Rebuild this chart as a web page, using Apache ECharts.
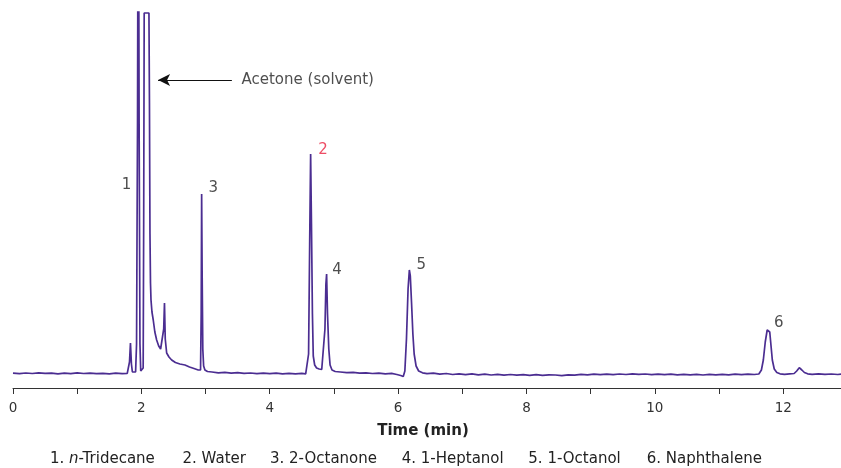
<!DOCTYPE html>
<html>
<head>
<meta charset="utf-8">
<script src="https://cdn.jsdelivr.net/npm/echarts@6/dist/echarts.min.js"></script>
<style>html,body{margin:0;padding:0;background:#fff}#c{width:841px;height:468px}</style>
</head>
<body>
<div id="c"></div>
<script>
// Retention time (min)
var times = [0.00,0.10,0.20,0.30,0.40,0.50,0.60,0.70,0.80,0.90,1.00,1.10,1.20,1.30,1.40,1.50,1.60,1.70,1.78,
1.80,1.815,1.83,1.845,1.86,1.88,1.91,1.925,1.94,1.952,1.965,1.978,1.99,2.01,2.028,2.036,2.044,2.118,2.126,2.134,2.142,2.150,2.165,2.185,2.21,2.238,2.27,2.30,2.33,2.348,2.360,2.372,2.394,2.43,2.472,2.53,2.60,2.679,2.75,2.82,2.886,2.922,2.932,2.939,2.947,2.957,2.97,2.99,3.03,3.10,3.20,3.30,3.40,3.50,3.60,3.70,3.80,3.90,4.00,4.10,4.20,4.30,4.40,4.50,4.56,
4.590,4.605,4.622,4.637,4.650,4.665,4.678,4.70,4.73,4.77,4.81,4.835,4.86,4.875,4.886,4.900,4.92,4.94,4.97,5.02,5.10,5.20,5.30,5.40,5.50,5.60,5.70,5.80,5.90,5.98,6.04,6.08,6.105,6.13,6.155,6.175,6.19,6.21,6.23,6.25,6.28,6.32,6.38,6.45,6.55,6.65,6.75,6.85,6.95,7.05,7.15,7.25,7.35,7.45,7.55,7.65,7.75,7.85,7.95,8.05,8.15,8.25,8.35,8.45,8.55,8.65,8.75,8.85,8.95,9.05,9.15,9.25,9.35,9.45,9.55,9.65,9.75,9.85,9.95,10.05,10.15,10.25,10.35,10.45,10.55,10.65,10.75,10.85,10.95,11.05,11.15,11.25,11.35,11.45,11.55,11.62,11.66,11.69,11.72,11.75,11.77,11.79,11.81,11.83,11.86,11.90,11.95,12.02,12.10,12.17,12.21,12.25,12.29,12.33,12.38,12.45,12.55,12.65,12.75,12.85,12.90];
// Detector signal (arbitrary units, baseline ~0)
var signal = [0.8,0.3,1.0,0.5,1.2,0.6,0.9,0.2,0.8,0.4,1.1,0.5,0.9,0.3,0.7,0.2,0.8,0.4,0.6,
1,12,31,10,2,1.2,2,30,250,600,250,30,3,2.5,6,150,361,361,270,140,91,74,62,54,42,34,28,25,24,45,71,35,21,17,14,11.5,10,9,7,5.5,4,4,60,180,100,25,8,4,2.5,2,1.2,1.6,0.8,1.3,0.6,1.0,0.4,0.9,0.3,0.8,0.2,0.7,0.1,0.6,0.2,
1,20,130,220,150,60,18,9,6,5,4.5,5,45,90,100,60,25,9,4,2.5,2,1.3,1.6,0.9,1.2,0.5,0.9,0.2,0.6,-0.5,-1.5,-2.5,3,35,85,104,98,70,40,20,8,3,1.2,0.3,0.8,-0.2,0.5,-0.5,0.2,-0.6,0.1,-0.8,-0.2,-1.0,-0.4,-1.1,-0.5,-1.2,-0.6,-1.3,-0.7,-1.4,-0.8,-1.0,-1.6,-0.8,-1.2,-0.4,-0.8,-0.2,-0.7,-0.1,-0.6,0,-0.5,0.1,-0.4,0,-0.6,-0.1,-0.7,-0.2,-0.8,-0.3,-0.9,-0.4,-1.0,-0.4,-0.9,-0.3,-0.8,-0.2,-0.7,-0.1,-0.5,0,4,14,32,44,46,42,28,14,5,1.5,0.2,-0.4,0.1,0.5,3,6.3,4,1.5,0.2,-0.3,0.1,-0.4,0,-0.5,-0.2];
// Peak number labels
var peakLabels = ['1','2','3','4','5','6'];
var labelTimes = [1.77,4.83,3.12,5.05,6.36,11.93];
var labelSignals = [189,224,186,104,109,51];
var compounds = ['1. ','n','-Tridecane','2. Water','3. 2-Octanone','4. 1-Heptanol','5. 1-Octanol','6. Naphthalene'];
var xTickMax = 12.9;

var line = times.map(function(t,i){return [t, signal[i]];});
var labelData = peakLabels.map(function(l,i){
  return {value:[labelTimes[i], labelSignals[i]], label:{formatter:l, color: l==='2' ? '#e8213f' : '#222'}};
});

var chart = echarts.init(document.getElementById('c'), null, {renderer:'canvas'});
var FONT = "'DejaVu Sans', Verdana, sans-serif";
var legendX = [50, 182.5, 270, 401.7, 528.3, 646.7];
var graphics = [];
graphics.push({type:'text', left:legendX[0], top:452, style:{
  text:'{a|' + compounds[0] + '}{i|' + compounds[1] + '}{a|' + compounds[2] + '}',
  rich:{a:{fontFamily:FONT,fontSize:15,fill:'#222'}, i:{fontFamily:FONT,fontSize:15,fontStyle:'italic',fill:'#222'}}
}});
for (var k=3;k<compounds.length;k++){
  graphics.push({type:'text', left:legendX[k-2], top:452, style:{text:compounds[k], fontFamily:FONT, fontSize:15, fill:'#222'}});
}

chart.setOption({
  animation:false,
  textStyle:{fontFamily:FONT},
  grid:{left:13, right:0, top:12, bottom:80, containLabel:false},
  xAxis:{
    type:'value', min:0, max:xTickMax, interval:1,
    name:'Time (min)', nameLocation:'middle', nameGap:36,
    nameTextStyle:{fontFamily:FONT, fontSize:15, fontWeight:'bold', color:'#222', padding:[0,8,0,0]},
    axisLine:{show:true, onZero:false, lineStyle:{color:'#333', width:1}},
    axisTick:{show:true, length:6, lineStyle:{color:'#333'}},
    axisLabel:{fontFamily:FONT, fontSize:13.5, color:'#333', margin:13, showMaxLabel:false,
      formatter:function(v){return (Math.round(v)%2===0) ? String(Math.round(v)) : '';}},
    splitLine:{show:false}
  },
  yAxis:{type:'value', min:-14, max:362, show:false, splitLine:{show:false}},
  graphic:graphics,
  series:[
    {type:'line', data:line, showSymbol:false, symbol:'none', clip:true,
     lineStyle:{color:'#4b2d91', width:1.7}, z:3,
     markLine:{silent:true, symbol:['none','arrow'], symbolSize:[9,12],
       lineStyle:{color:'#111', width:1.2, type:'solid'},
       label:{show:false},
       data:[[{coord:[3.41,294]},{coord:[2.26,294]}]]}
    },
    {type:'scatter', data:labelData, symbolSize:0, z:4,
     label:{show:true, position:'inside', fontFamily:FONT, fontSize:15}},
    {type:'scatter', data:[[3.56,294]], symbolSize:0, z:4,
     label:{show:true, position:'right', distance:0, formatter:'Acetone (solvent)', fontFamily:FONT, fontSize:15, color:'#222'}}
  ]
});
</script>
</body>
</html>
